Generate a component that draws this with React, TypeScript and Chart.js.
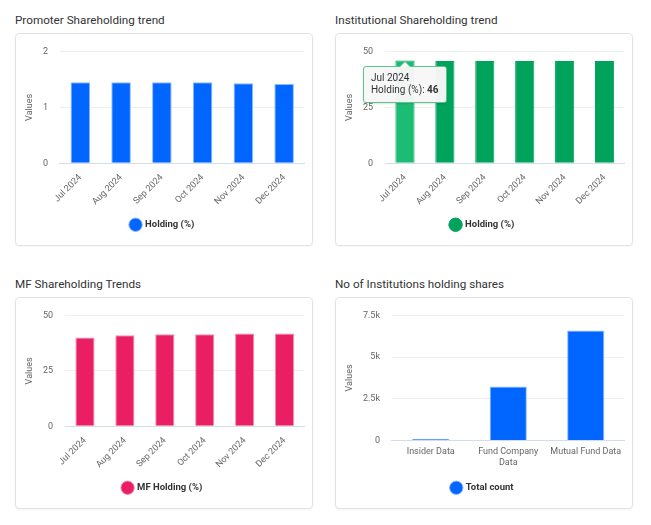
import React, { useEffect, useRef } from "react";
import { Chart, registerables } from "chart.js";

Chart.register(...registerables);
Chart.defaults.font.family = "Roboto, 'Noto Sans', sans-serif";

const months = ["Jul 2024", "Aug 2024", "Sep 2024", "Oct 2024", "Nov 2024", "Dec 2024"];
const promoterHolding = [1.45, 1.45, 1.45, 1.45, 1.43, 1.42];
const promoterTicks = [0, 1, 2];
const institutionalHolding = [46, 45.8, 45.8, 45.8, 45.8, 45.8];
const institutionalTicks = [0, 25, 50];
const mfHolding = [40.1, 41.1, 41.5, 41.5, 41.9, 41.9];
const mfTicks = [0, 25, 50];
const institutionCategories = [["Insider Data"], ["Fund Company", "Data"], ["Mutual Fund Data"]];
const institutionCounts = [85, 3230, 6600];
const institutionTicks = [0, 2500, 5000, 7500];

type CardProps = {
  title: string;
  left: number;
  top: number;
  width: number;
  height: number;
  labels: any[];
  data: number[];
  seriesLabel: string;
  color: string;
  hoverColor: string;
  borderColor: string;
  ticks: number[];
  tickFormat?: (v: number) => string;
  rotate: boolean;
  activeIndex?: number;
  tooltipBorder?: string;
};

function BarCard(p: CardProps) {
  const canvasRef = useRef<HTMLCanvasElement | null>(null);
  const tipRef = useRef<HTMLDivElement | null>(null);

  useEffect(() => {
    const canvas = canvasRef.current!;
    const external = (ctx: any) => {
      const tip = tipRef.current;
      if (!tip) return;
      const t = ctx.tooltip;
      if (!t || t.opacity === 0 || !t.dataPoints || !t.dataPoints.length) {
        tip.style.display = "none";
        return;
      }
      const dp = t.dataPoints[0];
      const titleEl = tip.querySelector("[data-role=title]") as HTMLElement;
      const bodyEl = tip.querySelector("[data-role=body]") as HTMLElement;
      titleEl.textContent = String(dp.label);
      bodyEl.innerHTML = "";
      const span = document.createElement("span");
      span.textContent = dp.dataset.label + ": ";
      const b = document.createElement("b");
      b.textContent = String(dp.formattedValue);
      bodyEl.appendChild(span);
      bodyEl.appendChild(b);
      tip.style.display = "block";
      const w = tip.offsetWidth;
      tip.style.left = t.caretX - w / 2 + "px";
      tip.style.top = t.caretY + 6 + "px";
    };

    const chart = new Chart(canvas, {
      type: "bar",
      data: {
        labels: p.labels,
        datasets: [
          {
            label: p.seriesLabel,
            data: p.data,
            backgroundColor: p.color,
            hoverBackgroundColor: p.hoverColor,
            borderColor: p.borderColor,
            hoverBorderColor: p.borderColor,
            borderWidth: 1,
            barPercentage: 0.6,
            categoryPercentage: 0.8,
          },
        ],
      },
      options: {
        animation: false,
        responsive: true,
        maintainAspectRatio: false,
        events: [],
        layout: { padding: { top: 17.5, left: 4.6, right: 7.5, bottom: 5.5 } },
        plugins: {
          legend: {
            position: "bottom",
            labels: {
              usePointStyle: true,
              pointStyle: "circle",
              boxWidth: 10,
              boxHeight: 10,
              color: "#333",
              font: { size: 9.5, weight: "bold" },
              padding: p.rotate ? 4 : 9,
            },
          },
          tooltip: { enabled: false, external },
        },
        scales: {
          x: {
            grid: { display: false, drawTicks: false },
            border: { color: "#d3dbee" },
            ticks: {
              color: "#666",
              font: { size: 9 },
              padding: p.rotate ? 9 : 6,
              maxRotation: p.rotate ? 45 : 0,
              minRotation: p.rotate ? 45 : 0,
              autoSkip: false,
            },
          },
          y: {
            min: p.ticks[0],
            max: p.ticks[p.ticks.length - 1],
            border: { display: false },
            grid: { color: "#eeeeee", drawTicks: false },
            title: {
              display: true,
              text: "Values",
              color: "#666",
              font: { size: 9 },
              padding: { top: 4, bottom: -4.5 },
            },
            ticks: {
              stepSize: p.ticks[1] - p.ticks[0],
              color: "#666",
              font: { size: 9 },
              padding: 12,
              callback: (v: any) => (p.tickFormat ? p.tickFormat(Number(v)) : String(v)),
            },
          },
        },
      },
    });

    if (p.activeIndex !== undefined) {
      const el: any = chart.getDatasetMeta(0).data[p.activeIndex];
      const active = [{ datasetIndex: 0, index: p.activeIndex }];
      chart.setActiveElements(active);
      chart.tooltip!.setActiveElements(active, { x: el.x, y: el.y });
      chart.update();
    }

    return () => chart.destroy();
  }, []);

  const tb = p.tooltipBorder || p.color;

  return (
    <>
      <div
        style={{
          position: "absolute",
          left: p.left,
          top: p.top - 21,
          fontFamily: "Roboto, sans-serif",
          fontSize: 11.7,
          lineHeight: "16px",
          color: "#333",
          whiteSpace: "nowrap",
        }}
      >
        {p.title}
      </div>
      <div
        style={{
          position: "absolute",
          left: p.left,
          top: p.top,
          width: p.width,
          height: p.height,
          boxSizing: "border-box",
          border: "1px solid #e2e2e2",
          borderRadius: 4,
          background: "#fff",
          boxShadow: "0 1px 2px rgba(0,0,0,0.04)",
        }}
      >
        <div style={{ position: "absolute", left: 0, top: 0, width: p.width - 2, height: p.height - 2 }}>
          <canvas ref={canvasRef} />
          <div
            ref={tipRef}
            style={{
              display: "none",
              position: "absolute",
              background: "rgba(247,247,247,0.97)",
              border: "1px solid " + tb,
              borderRadius: 3,
              padding: "5px 7px 6px 7px",
              fontFamily: "Roboto, sans-serif",
              fontSize: 10,
              lineHeight: "12px",
              color: "#333",
              whiteSpace: "nowrap",
              pointerEvents: "none",
              boxShadow: "0 1px 2px rgba(0,0,0,0.12)",
            }}
          >
            <div
              style={{
                position: "absolute",
                left: "50%",
                top: -6,
                marginLeft: -6,
                width: 0,
                height: 0,
                borderLeft: "6px solid transparent",
                borderRight: "6px solid transparent",
                borderBottom: "6px solid " + tb,
              }}
            />
            <div
              style={{
                position: "absolute",
                left: "50%",
                top: -5,
                marginLeft: -5,
                width: 0,
                height: 0,
                borderLeft: "5px solid transparent",
                borderRight: "5px solid transparent",
                borderBottom: "5px solid #f7f7f7",
              }}
            />
            <div data-role="title" />
            <div data-role="body" />
          </div>
        </div>
      </div>
    </>
  );
}

const kFormat = (v: number) => (v === 0 ? "0" : v / 1000 + "k");

export default function App() {
  return (
    <div style={{ position: "absolute", left: 0, top: 0, width: 651, height: 525, background: "#fff" }}>
      <BarCard
        title="Promoter Shareholding trend"
        left={15}
        top={33}
        width={298}
        height={213}
        labels={months}
        data={promoterHolding}
        seriesLabel="Holding (%)"
        color="#0066ff"
        hoverColor="#3385ff"
        borderColor="#8cb9ff"
        ticks={promoterTicks}
        rotate={true}
      />
      <BarCard
        title="Institutional Shareholding trend"
        left={335}
        top={33}
        width={298}
        height={213}
        labels={months}
        data={institutionalHolding}
        seriesLabel="Holding (%)"
        color="#00a35b"
        hoverColor="#1dbc74"
        borderColor="#00a35b"
        ticks={institutionalTicks}
        rotate={true}
        activeIndex={0}
        tooltipBorder="#5cc58c"
      />
      <BarCard
        title="MF Shareholding Trends"
        left={15}
        top={297}
        width={298}
        height={212}
        labels={months}
        data={mfHolding}
        seriesLabel="MF Holding (%)"
        color="#e91e63"
        hoverColor="#ee4b82"
        borderColor="#f48fb1"
        ticks={mfTicks}
        rotate={true}
      />
      <BarCard
        title="No of Institutions holding shares"
        left={335}
        top={297}
        width={298}
        height={212}
        labels={institutionCategories}
        data={institutionCounts}
        seriesLabel="Total count"
        color="#0066ff"
        hoverColor="#3385ff"
        borderColor="#8cb9ff"
        ticks={institutionTicks}
        tickFormat={kFormat}
        rotate={false}
      />
    </div>
  );
}
